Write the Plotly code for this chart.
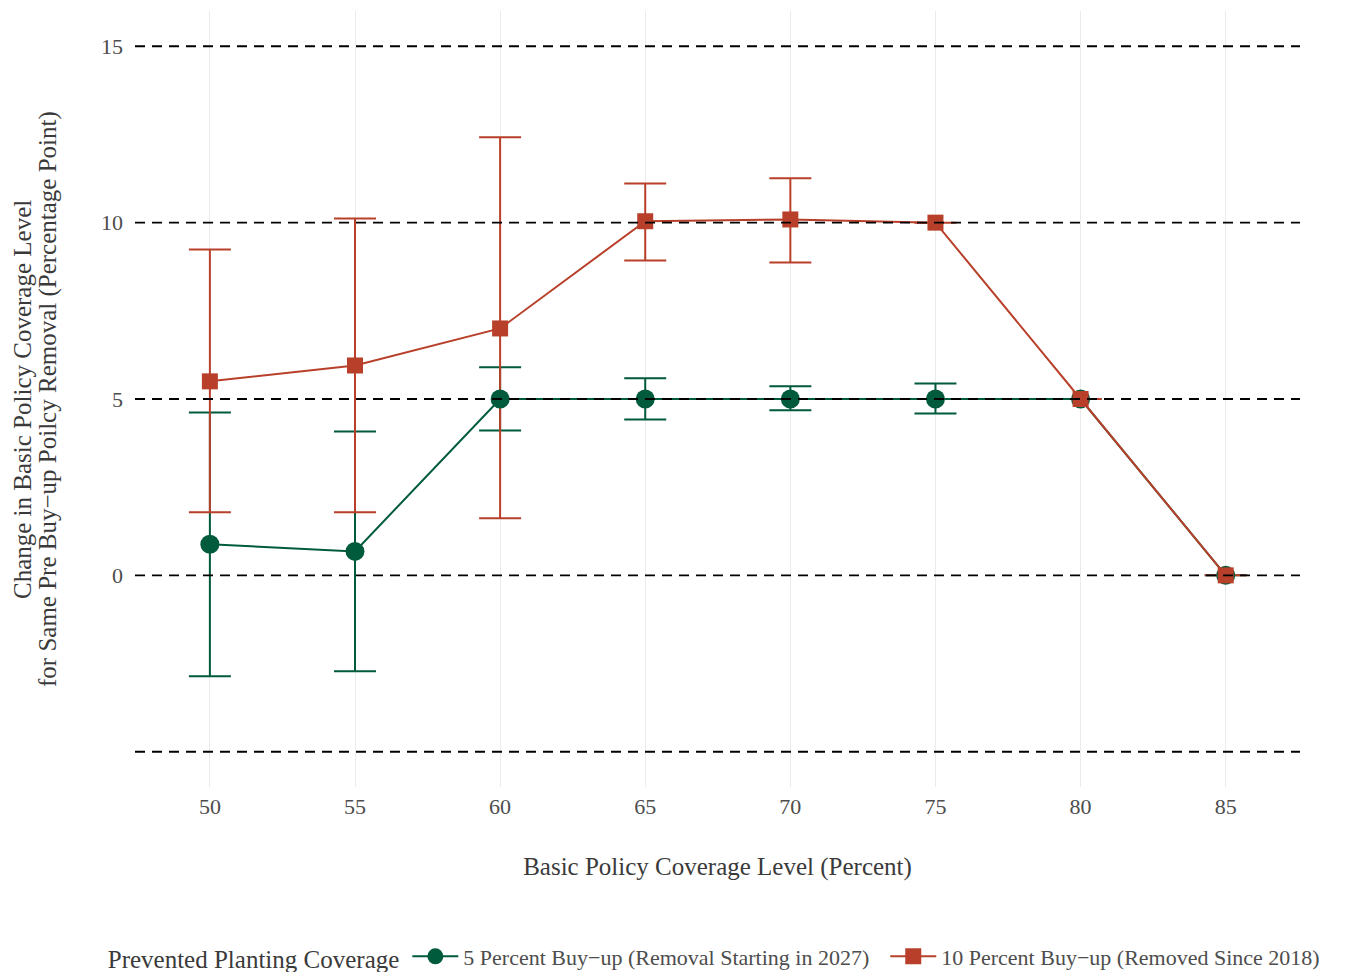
import plotly.graph_objects as go

# Basic policy coverage levels (percent)
coverage = [50, 55, 60, 65, 70, 75, 80, 85]

# 5 percent buy-up: estimate and interval bounds
buy5_est = [0.88, 0.68, 5.0, 5.0, 5.0, 5.0, 5.0, 0.0]
buy5_low = [-2.86, -2.72, 4.11, 4.42, 4.68, 4.59, 5.0, 0.0]
buy5_high = [4.62, 4.08, 5.90, 5.59, 5.36, 5.44, 5.0, 0.0]

# 10 percent buy-up: estimate and interval bounds
buy10_est = [5.50, 5.95, 7.0, 10.04, 10.09, 10.0, 5.0, 0.0]
buy10_low = [1.79, 1.79, 1.62, 8.93, 8.87, 10.0, 5.0, 0.0]
buy10_high = [9.24, 10.12, 12.42, 11.11, 11.26, 10.0, 5.0, 0.0]

# Reference lines
ref_levels = [-5, 0, 5, 10, 15]
y_ticks = [0, 5, 10, 15]

series_names = [
    "5 Percent Buy\u2212up (Removal Starting in 2027)\u00a0\u00a0",
    "10 Percent Buy\u2212up (Removed Since 2018)",
]
y_title_lines = [
    "Change in Basic Policy Coverage Level",
    "for Same Pre Buy\u2212up Poilcy Removal (Percentage Point)",
]

GREEN = "#005A3C"
RED = "#B8402A"
FONT = "Liberation Serif, Times New Roman, serif"
TEXT = "#4d4d4d"
TITLE = "#3a3a3a"

fig = go.Figure()

# Error bars first so lines and points sit on top
for est, lo, hi, col in [
    (buy5_est, buy5_low, buy5_high, GREEN),
    (buy10_est, buy10_low, buy10_high, RED),
]:
    fig.add_trace(go.Scatter(
        x=coverage, y=est, mode="markers",
        marker=dict(size=0.1, color="rgba(0,0,0,0)"),
        error_y=dict(
            type="data", symmetric=False,
            array=[h - e for h, e in zip(hi, est)],
            arrayminus=[e - l for e, l in zip(est, lo)],
            color=col, thickness=2, width=21,
        ),
        showlegend=False, hoverinfo="skip",
    ))

fig.add_trace(go.Scatter(
    x=coverage, y=buy5_est, mode="lines+markers", name=series_names[0],
    line=dict(color=GREEN, width=2),
    marker=dict(symbol="circle", size=19, color=GREEN),
))
fig.add_trace(go.Scatter(
    x=coverage, y=buy10_est, mode="lines+markers", name=series_names[1],
    line=dict(color=RED, width=2),
    marker=dict(symbol="square", size=16, color=RED),
))

for lvl in ref_levels:
    fig.add_shape(
        type="line", xref="paper", x0=0, x1=1, yref="y", y0=lvl, y1=lvl,
        line=dict(color="black", width=1.8, dash="10px,7px"), layer="above",
    )

# Two-line y axis title
for line_text, xpos in zip(y_title_lines, [-0.097, -0.0747]):
    fig.add_annotation(
        text=line_text, xref="paper", yref="paper", x=xpos, y=0.5,
        xanchor="center", yanchor="middle", textangle=-90, showarrow=False,
        font=dict(size=25, color=TITLE, family=FONT),
    )

fig.update_layout(
    width=1347, height=972,
    margin=dict(l=135, r=47, t=11, b=185),
    paper_bgcolor="white", plot_bgcolor="white",
    font=dict(family=FONT, color=TEXT, size=22),
    xaxis=dict(
        range=[47.42, 87.56], tickvals=coverage, showgrid=True,
        gridcolor="#ebebeb", gridwidth=1, zeroline=False, showline=False,
        ticks="", tickfont=dict(size=22, color=TEXT), automargin=False,
        ticklabelstandoff=4,
        title=dict(text="Basic Policy Coverage Level (Percent)",
                   font=dict(size=25, color=TITLE), standoff=39),
    ),
    yaxis=dict(
        range=[-6, 16], tickvals=y_ticks, showgrid=False, zeroline=False,
        showline=False, ticks="", tickfont=dict(size=22, color=TEXT),
        automargin=False, ticklabelstandoff=11,
    ),
    legend=dict(
        orientation="h", xref="container", yref="container",
        x=0.531, xanchor="center", y=0.0154, yanchor="middle",
        itemwidth=46,
        title=dict(text="Prevented Planting Coverage", side="left",
                   font=dict(size=25, color=TITLE)),
        font=dict(size=22, color=TEXT),
    ),
)

fig.write_html("out.html")
